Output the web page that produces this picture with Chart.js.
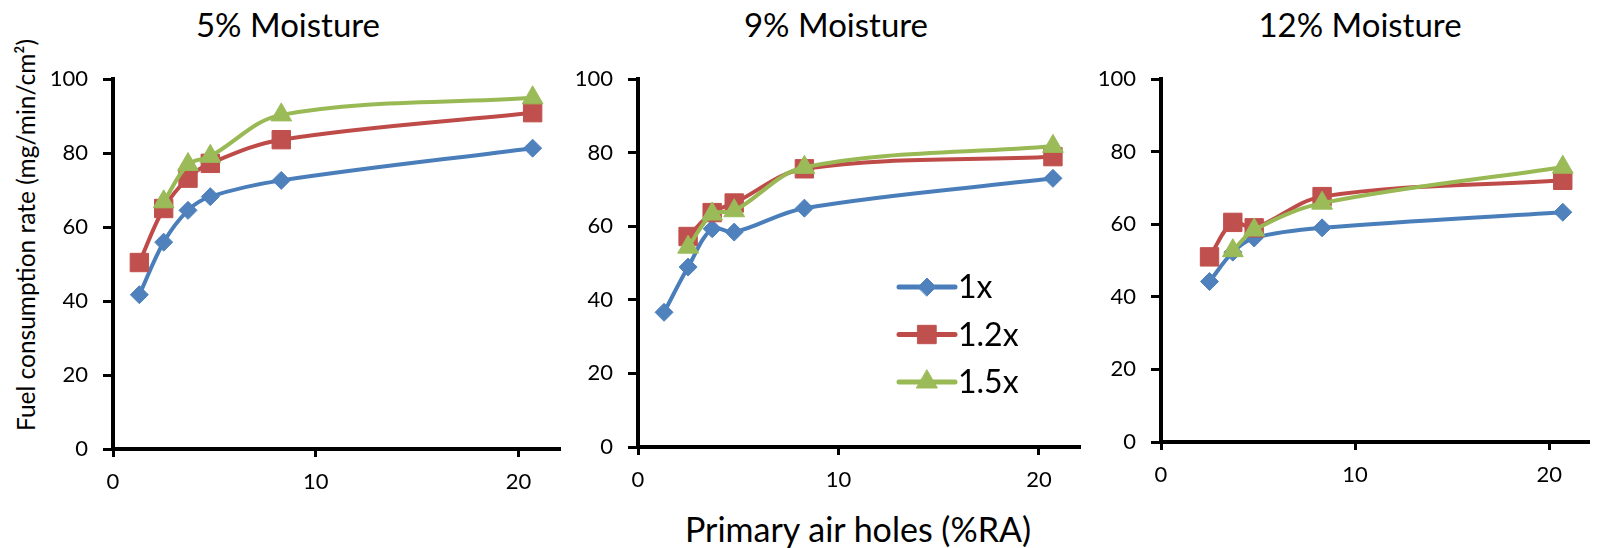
<!DOCTYPE html>
<html lang="en">
<head>
<meta charset="UTF-8">
<title>Fuel consumption rate vs primary air holes</title>
<script src="https://cdn.jsdelivr.net/npm/chart.js"></script>
<style>
    body {
        margin: 0;
        width: 1602px;
        height: 548px;
        background: #fff;
        position: relative;
        overflow: hidden;
        font-family: Lato, sans-serif;
        color: #000;
    }
    canvas { position: absolute; top: 0; }
    .ptitle {
        position: absolute;
        top: 24px;
        transform: translate(-50%, -50%);
        font-size: 33px;
        white-space: nowrap;
    }
    #yTitle {
        position: absolute;
        left: 25px;
        top: 235px;
        transform: translate(-50%, -50%) rotate(-90deg);
        font-size: 24.5px;
        white-space: nowrap;
    }
    #xTitle {
        position: absolute;
        left: 858px;
        top: 528px;
        transform: translate(-50%, -50%);
        font-size: 34px;
        white-space: nowrap;
    }
</style>
<script>
    // x values: primary air holes (%RA)
    const airHoles = [1.3, 2.5, 3.7, 4.8, 8.3, 20.7];
    const seriesNames = ['1x', '1.2x', '1.5x'];
    const panelTitles = ['5% Moisture', '9% Moisture', '12% Moisture'];
    const xTickValues = [0, 10, 20];
    const yTickValues = [0, 20, 40, 60, 80, 100];

    // 5% moisture
    const m5_1x  = [41.7, 55.9, 64.5, 68.2, 72.6, 81.3];
    const m5_12x = [50.4, 65.0, 73.2, 77.2, 83.6, 90.9];
    const m5_15x = [null, 66.8, 76.9, 79.1, 90.3, 94.9];

    // 9% moisture
    const m9_1x  = [36.6, 48.9, 59.3, 58.4, 64.9, 73.0];
    const m9_12x = [null, 57.2, 63.7, 66.3, 75.6, 78.9];
    const m9_15x = [null, 54.3, 63.3, 64.2, 76.0, 81.7];

    // 12% moisture
    const m12_1x  = [null, 44.2, 52.3, 56.2, 59.0, 63.3];
    const m12_12x = [null, 51.0, 60.5, 59.0, 67.6, 72.1];
    const m12_15x = [null, null, 52.7, 58.4, 65.8, 75.7];

    const lineColors = ['#4A7EBB', '#BE4B48', '#98B954'];
    const fillColors = ['#4F81BD', '#C0504D', '#9BBB59'];
    const markers = ['rectRot', 'rect', 'triangle'];
    const markerSizes = [9, 13, 12];

    function makeDatasets(seriesList) {
        return seriesList.map((vals, i) => ({
            label: seriesNames[i],
            data: airHoles.map((x, j) => ({ x: x, y: vals[j] })),
            borderColor: lineColors[i],
            backgroundColor: fillColors[i],
            borderWidth: 4,
            pointStyle: markers[i],
            pointRadius: markerSizes[i],
            pointBackgroundColor: fillColors[i],
            pointBorderColor: fillColors[i],
            pointBorderWidth: 1,
            tension: 0.35,
            order: 3 - i
        }));
    }

    // legend drawn inside the middle panel, line + marker + text like Excel
    const insideLegend = {
        id: 'insideLegend',
        afterDraw(chart, args, opts) {
            if (!opts.show) return;
            const ctx = chart.ctx;
            ctx.save();
            chart.data.datasets.forEach((ds, i) => {
                const y = opts.y + i * opts.rowGap;
                ctx.strokeStyle = ds.borderColor;
                ctx.lineWidth = 5;
                ctx.lineCap = 'round';
                ctx.beginPath();
                ctx.moveTo(opts.x, y);
                ctx.lineTo(opts.x + 56, y);
                ctx.stroke();
                ctx.fillStyle = ds.pointBackgroundColor;
                ctx.strokeStyle = ds.pointBorderColor;
                ctx.lineWidth = 1;
                Chart.helpers.drawPoint(ctx, {
                    pointStyle: ds.pointStyle,
                    radius: ds.pointRadius,
                    rotation: 0,
                    borderWidth: 1
                }, opts.x + 28, y);
                ctx.fillStyle = '#000';
                ctx.font = '32px Lato';
                ctx.textBaseline = 'middle';
                ctx.textAlign = 'left';
                ctx.fillText(ds.label, opts.x + 59, y + 1);
            });
            ctx.restore();
        }
    };

    function makeChart(id, seriesList, yWidth, xHeight, padRight, legend) {
        const ctx = document.getElementById(id).getContext('2d');
        return new Chart(ctx, {
            type: 'line',
            data: { datasets: makeDatasets(seriesList) },
            plugins: [insideLegend],
            options: {
                responsive: false,
                animation: false,
                layout: { padding: { top: 79, right: padRight, left: 0, bottom: 0 } },
                plugins: {
                    legend: { display: false },
                    tooltip: { enabled: false },
                    insideLegend: legend
                },
                scales: {
                    x: {
                        type: 'linear',
                        min: 0,
                        max: 22,
                        afterBuildTicks: (axis) => { axis.ticks = xTickValues.map(v => ({ value: v })); },
                        afterFit: (axis) => { axis.height = xHeight; },
                        border: { display: true, color: '#000', width: 4 },
                        grid: { drawOnChartArea: false, drawTicks: true, tickLength: 8, color: '#000', lineWidth: 3 },
                        ticks: { color: '#000', font: { size: 22, family: 'Lato' }, padding: 12, maxRotation: 0 }
                    },
                    y: {
                        min: 0,
                        max: 100,
                        afterBuildTicks: (axis) => { axis.ticks = yTickValues.map(v => ({ value: v })); },
                        afterFit: (axis) => { axis.width = yWidth; },
                        border: { display: true, color: '#000', width: 4 },
                        grid: { drawOnChartArea: false, drawTicks: true, tickLength: 10, color: '#000', lineWidth: 3 },
                        ticks: { color: '#000', font: { size: 22, family: 'Lato' }, padding: 15 }
                    }
                }
            }
        });
    }

    window.onload = function() {
        const draw = () => {
            makeChart('chart5', [m5_1x, m5_12x, m5_15x], 113, 99, 21, { show: false });
            makeChart('chart9', [m9_1x, m9_12x, m9_15x], 78, 101, 21, { show: true, x: 339, y: 287, rowGap: 47.5 });
            makeChart('chart12', [m12_1x, m12_12x, m12_15x], 76, 106, 0, { show: false });
        };
        if (document.fonts && document.fonts.load) {
            Promise.all([document.fonts.load('22px Lato'), document.fonts.load('32px Lato')]).then(draw, draw);
        } else {
            draw();
        }
    };
</script>
</head>
<body>
    <div class="ptitle" style="left:288px">5% Moisture</div>
    <div class="ptitle" style="left:836px">9% Moisture</div>
    <div class="ptitle" style="left:1360px">12% Moisture</div>
    <div id="yTitle">Fuel consumption rate (mg/min/cm²)</div>
    <div id="xTitle">Primary air holes (%RA)</div>

    <canvas id="chart5" width="580" height="548" style="left:0px"></canvas>
    <canvas id="chart9" width="540" height="548" style="left:560px"></canvas>
    <canvas id="chart12" width="517" height="548" style="left:1085px"></canvas>
</body>
</html>
